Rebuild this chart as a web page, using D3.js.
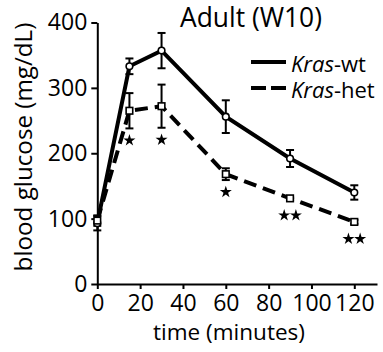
<!DOCTYPE html>
<html>
<head>
<meta charset="utf-8">
<script src="https://cdn.jsdelivr.net/npm/d3@7"></script>
<style>
  body { margin: 0; background: #fff; }
  text { font-family: "Open Sans", sans-serif; fill: #000; }
</style>
</head>
<body>
<svg id="chart"></svg>
<script>
// time points (minutes)
const times = [0, 15, 30, 60, 90, 120];
// Kras-wt mean and SEM
const wtMean = [93, 333, 357, 256, 192, 140];
const wtErr = [11, 12, 27, 25, 13, 11];
// Kras-het mean and SEM
const hetMean = [97, 265, 272, 168, 131, 95];
const hetErr = [8, 27, 33, 9, 3, 3];
// significance stars per time point
const hetStars = [0, 1, 1, 1, 2, 2];
const xTicks = [0, 20, 40, 60, 80, 100, 120];
const yTicks = [0, 100, 200, 300, 400];
const title = "Adult (W10)";

const width = 383, height = 352;
const svg = d3.select("#chart").attr("width", width).attr("height", height);

const x = d3.scaleLinear().domain([0, 130.6]).range([97.3, 377]);
const y = d3.scaleLinear().domain([0, 400]).range([284, 22.5]);

// shrink/grow a text so it spans the width seen in the reference
function fit(sel, target) {
    const w = sel.node().getComputedTextLength();
    const fs = parseFloat(sel.attr("font-size"));
    sel.attr("font-size", fs * target / w);
}

// axes
const yAxis = d3.axisLeft(y).tickValues(yTicks).tickSize(6).tickSizeOuter(0).tickPadding(4);
const xAxis = d3.axisBottom(x).tickValues(xTicks).tickSize(5).tickSizeOuter(0).tickPadding(6);

const gx = svg.append("g").attr("transform", `translate(0,${y(0)})`).call(xAxis);
const gy = svg.append("g").attr("transform", `translate(${x(0)},0)`).call(yAxis);
[gx, gy].forEach(g => {
    g.selectAll("path, line").attr("stroke", "#000").attr("stroke-width", 2);
    g.selectAll("text").attr("font-size", 23).attr("font-family", "Open Sans, sans-serif").attr("fill", "#000");
});

// axis titles
svg.append("text")
    .attr("x", 229).attr("y", 340)
    .attr("text-anchor", "middle").attr("font-size", 21)
    .text("time (minutes)")
    .call(fit, 152);

svg.append("text")
    .attr("transform", "translate(32,147) rotate(-90)")
    .attr("text-anchor", "middle").attr("font-size", 21)
    .text("blood glucose (mg/dL)")
    .call(fit, 249);

svg.append("text")
    .attr("x", 251).attr("y", 27)
    .attr("text-anchor", "middle").attr("font-size", 26)
    .text(title)
    .call(fit, 142);

const wt = times.map((t, i) => ({ t, m: wtMean[i], e: wtErr[i] }));
const het = times.map((t, i) => ({ t, m: hetMean[i], e: hetErr[i], s: hetStars[i] }));

const line = d3.line().x(d => x(d.t)).y(d => y(d.m));

function errorBars(data) {
    const g = svg.append("g").attr("stroke", "#000").attr("stroke-width", 2);
    data.forEach(d => {
        g.append("line").attr("x1", x(d.t)).attr("x2", x(d.t))
            .attr("y1", y(d.m - d.e)).attr("y2", y(d.m + d.e));
        [d.m - d.e, d.m + d.e].forEach(v => {
            g.append("line").attr("x1", x(d.t) - 4).attr("x2", x(d.t) + 4)
                .attr("y1", y(v)).attr("y2", y(v));
        });
    });
}

errorBars(wt);
errorBars(het);

svg.append("path").datum(wt)
    .attr("d", line).attr("fill", "none")
    .attr("stroke", "#000").attr("stroke-width", 4);

svg.append("path").datum(het)
    .attr("d", line).attr("fill", "none")
    .attr("stroke", "#000").attr("stroke-width", 4)
    .attr("stroke-dasharray", "13,7");

svg.selectAll(".wtpt").data(wt).join("circle")
    .attr("class", "wtpt")
    .attr("cx", d => x(d.t)).attr("cy", d => y(d.m)).attr("r", 3.3)
    .attr("fill", "#fff").attr("stroke", "#000").attr("stroke-width", 1.6);

svg.selectAll(".hetpt").data(het).join("rect")
    .attr("class", "hetpt")
    .attr("x", d => x(d.t) - 3.3).attr("y", d => y(d.m) - 3.3)
    .attr("width", 6.6).attr("height", 6.6)
    .attr("fill", "#fff").attr("stroke", "#000").attr("stroke-width", 1.6);

// significance stars
const star = d3.symbol().type(d3.symbolStar).size(45);
het.filter(d => d.s > 0).forEach(d => {
    const sy = Math.max(y(d.m - d.e) + 12, y(d.m) + 17);
    for (let k = 0; k < d.s; k++) {
        const sx = x(d.t) + (k - (d.s - 1) / 2) * 11.7;
        svg.append("path").attr("d", star)
            .attr("transform", `translate(${sx},${sy})`)
            .attr("fill", "#000");
    }
});

// legend
const legend = [
    { name: "wt", dash: null, y: 62 },
    { name: "het", dash: "15,5", y: 88 }
];
legend.forEach(l => {
    svg.append("line")
        .attr("x1", 251).attr("x2", 286).attr("y1", l.y).attr("y2", l.y)
        .attr("stroke", "#000").attr("stroke-width", 4)
        .attr("stroke-dasharray", l.dash);
    const t = svg.append("text").attr("x", 291).attr("y", l.y + 10).attr("font-size", 22);
    t.append("tspan").attr("font-style", "italic").text("Kras");
    t.append("tspan").text("-" + l.name);
});
</script>
</body>
</html>
